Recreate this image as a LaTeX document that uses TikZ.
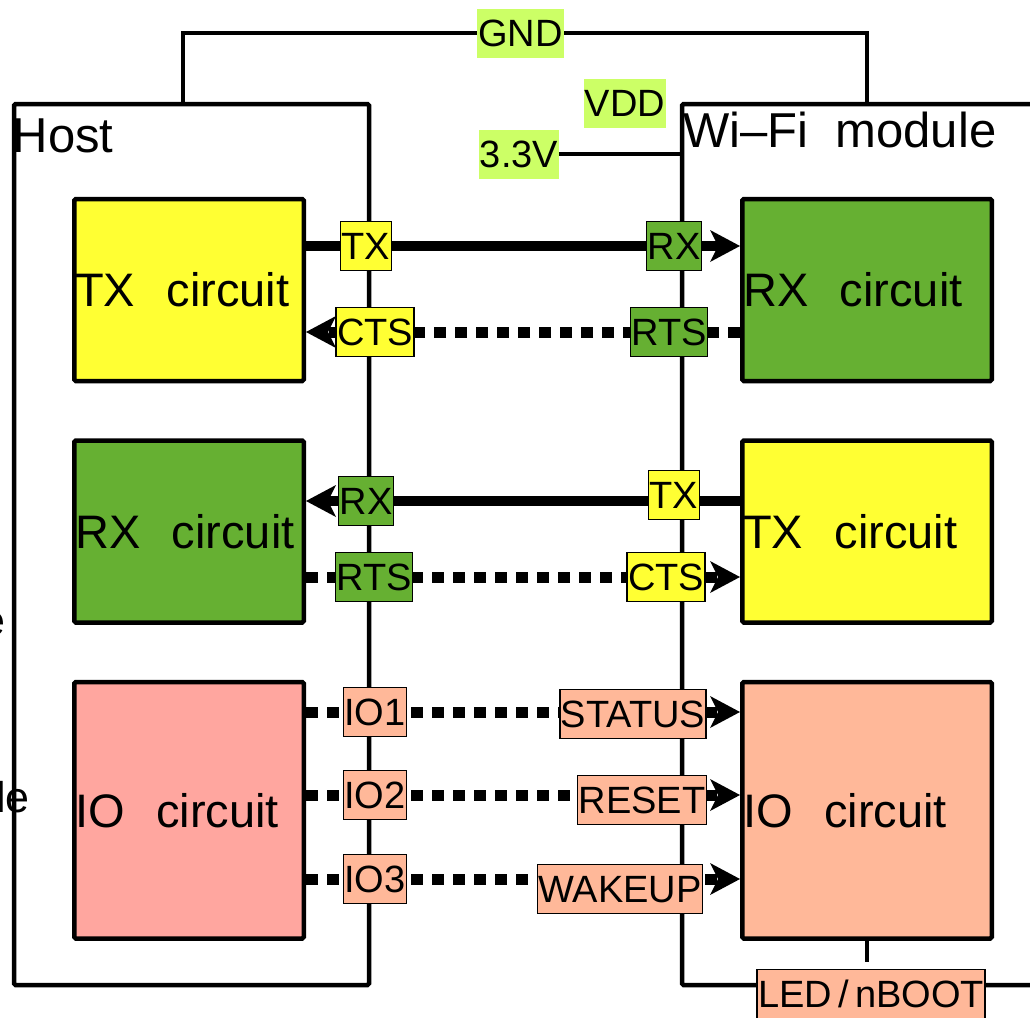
\documentclass[tikz,border=0pt]{standalone}
\usepackage{fontspec}
\setmainfont{Liberation Sans}
\usepackage{tikz}
\usetikzlibrary{arrows.meta, positioning, calc, backgrounds}
\definecolor{txyellow}{HTML}{FFFF33}
\definecolor{rxgreen}{HTML}{66B032}
\definecolor{iopink}{HTML}{FFA69F}
\definecolor{iosalmon}{HTML}{FFB899}
\definecolor{pwrgreen}{HTML}{CCFF66}
\newcommand{\bigtext}{\fontsize{47}{50}\selectfont}
\newcommand{\titletext}{\fontsize{49}{52}\selectfont}
\newcommand{\sigtext}{\fontsize{38}{40}\selectfont}
\tikzset{
  unit/.style={draw, line width=4.5pt, rounded corners=1.5pt, inner sep=0pt},
  title/.style={font=\titletext, anchor=base west, inner sep=0pt},
  circuit/.style={
    unit, fill=#1, font=\bigtext, align=left,
    inner xsep=1pt, text width=227.5pt, minimum height=182pt
  },
  sig/.style={
    draw, line width=1.5pt, fill=#1, font=\sigtext,
    inner xsep=1pt, inner ysep=11pt, text height=27pt, text depth=0pt
  },
  pwr/.style={
    fill=pwrgreen, font=\sigtext,
    inner xsep=1pt, inner ysep=11pt, text height=27pt, text depth=0pt
  },
  wire/.style={line width=4pt},
  sigtip/.style={-{Stealth[length=30pt, width=32pt, inset=8pt, line width=0pt]}},
  dataline/.style={sigtip, line width=10pt},
  ctrlline/.style={sigtip, line width=11pt, dash pattern=on 12pt off 9pt}
}

\begin{document}
\begin{tikzpicture}[x=1pt, y=1pt]
    \useasboundingbox (0,0) rectangle (1030,-1017);

    % cut-off text at the left edge
    \node[font=\fontsize{43}{46}\selectfont, anchor=base east, inner sep=0pt] (cut1) at (6,-635) {e};
    \node[font=\fontsize{43}{46}\selectfont, anchor=base east, inner sep=0pt] (cut2) at (30,-812) {le};

    % the two modules
    \node[unit, minimum width=355pt, minimum height=881pt] (host) at (191.5,-544.5) {};
    \node[unit, minimum width=418pt, minimum height=881pt] (wifi) at (891,-544.5) {};
    \node[title] (hostname) at (12.5,-152) {Host};
    \node[title] (wifiname) at (683,-147) {Wi\textendash Fi\ \ module};

    % host side
    \node[circuit=txyellow] (htxc) at (189,-290) {TX\ \ circuit};
    \node[circuit=rxgreen, below=55pt of htxc] (hrxc) {RX\ \ circuit};
    \node[circuit=iopink, below=55pt of hrxc, minimum height=256.5pt] (hioc) {IO\ \ circuit};

    % Wi-Fi side
    \node[circuit=rxgreen, text width=247.5pt] (wrxc) at (867,-290) {RX\ \ circuit};
    \node[circuit=txyellow, text width=247.5pt, below=55pt of wrxc] (wtxc) {TX\ \ circuit};
    \node[circuit=iosalmon, text width=247.5pt, below=55pt of wtxc, minimum height=256.5pt] (wioc) {IO\ \ circuit};

    % power
    \node[pwr] (gnd) at (520.5,-33) {GND};
    \node[pwr] (vdd) at (625,-103) {VDD};
    \node[pwr] (v33) at (519,-154) {3.3V};

    % pins, host
    \node[sig=txyellow] (hTX) at (366,-246) {TX};
    \node[sig=txyellow] (hCTS) at (375,-332) {CTS};
    \node[sig=rxgreen] (hRX) at (366,-501) {RX};
    \node[sig=rxgreen] (hRTS) at (374,-577) {RTS};
    \node[sig=iosalmon] (io1) at (375,-712) {IO1};
    \node[sig=iosalmon] (io2) at (375,-795) {IO2};
    \node[sig=iosalmon] (io3) at (375,-879) {IO3};

    % pins, Wi-Fi module
    \node[sig=rxgreen] (wRX) at (674,-246) {RX};
    \node[sig=rxgreen] (wRTS) at (669,-332) {RTS};
    \node[sig=txyellow] (wTX) at (674,-495) {TX};
    \node[sig=txyellow] (wCTS) at (666,-577) {CTS};
    \node[sig=iosalmon] (status) at (633,-714) {STATUS};
    \node[sig=iosalmon] (reset) at (642,-800) {RESET};
    \node[sig=iosalmon] (wakeup) at (620,-889) {WAKEUP};
    \node[sig=iosalmon] (led) at (871,-994) {LED\,/\,nBOOT};

    \begin{scope}[on background layer]
      \draw[wire] ([xshift=171pt]host.north west) |- (gnd) -| ([xshift=187pt]wifi.north west);
      \draw[wire] (v33.east) -- (v33.east -| wifi.west);
      \draw[wire, shorten >=7pt] (wioc.south) -- (wioc.south |- led.north);

      \draw[dataline] (htxc.east |- hTX) -- (wrxc.west |- hTX);
      \draw[ctrlline] (wrxc.west |- hCTS) -- (htxc.east |- hCTS);
      \draw[dataline] (wtxc.west |- hRX) -- (hrxc.east |- hRX);
      \draw[ctrlline] (hrxc.east |- hRTS) -- (wtxc.west |- hRTS);
      \draw[ctrlline] (hioc.east |- io1) -- (wioc.west |- io1);
      \draw[ctrlline] (hioc.east |- io2) -- (wioc.west |- io2);
      \draw[ctrlline] (hioc.east |- io3) -- (wioc.west |- io3);
    \end{scope}
\end{tikzpicture}
\end{document}
